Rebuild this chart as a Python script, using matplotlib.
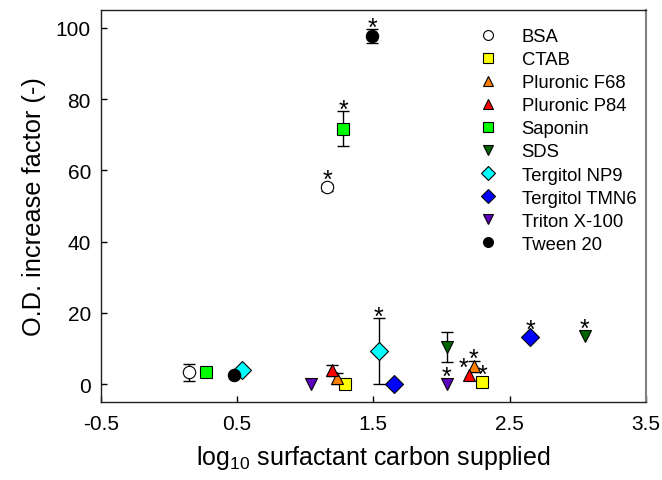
import matplotlib
matplotlib.use("Agg")
import matplotlib.pyplot as plt
from matplotlib.textpath import TextPath
from matplotlib.font_manager import FontProperties
import numpy as np

plt.rcParams['font.family'] = ['Liberation Sans', 'DejaVu Sans']
plt.rcParams['mathtext.fontset'] = 'custom'
plt.rcParams['mathtext.rm'] = 'Liberation Sans'
plt.rcParams['mathtext.it'] = 'Liberation Sans:italic'

# ---- data ----
names = ["BSA", "CTAB", "Pluronic F68", "Pluronic P84", "Saponin", "SDS",
         "Tergitol NP9", "Tergitol TMN6", "Triton X-100", "Tween 20"]
markers = ["o", "s", "^", "^", "s", "v", "D", "D", "v", "o"]
colors = ["#FFFFFF", "#FFFF00", "#FF8000", "#FF0000", "#00FF00", "#006400",
          "#00FFFF", "#0000FF", "#6000C0", "#000000"]

x_bsa = [0.15, 1.16];  y_bsa = [3.3, 55.2];  e_bsa = [2.5, 1.0]
x_ctab = [1.29, 2.30]; y_ctab = [0.0, 0.5];  e_ctab = [0.0, 0.0]
x_f68 = [1.23, 2.235]; y_f68 = [1.6, 5.0];   e_f68 = [1.5, 1.5]
x_p84 = [1.20, 2.20];  y_p84 = [3.9, 2.7];   e_p84 = [1.6, 0.0]
x_sap = [0.27, 1.28];  y_sap = [3.3, 71.7];  e_sap = [0.0, 5.0]
x_sds = [2.04, 3.05];  y_sds = [10.5, 13.6]; e_sds = [4.2, 0.0]
x_np9 = [0.54, 1.54];  y_np9 = [3.9, 9.3];   e_np9 = [0.0, 9.3]
x_tmn = [1.65, 2.65];  y_tmn = [0.0, 13.3];  e_tmn = [0.0, 0.0]
x_tri = [1.04, 2.04];  y_tri = [0.0, 0.0];   e_tri = [0.0, 0.0]
x_tw = [0.48, 1.49];   y_tw = [2.7, 97.8];   e_tw = [0.0, 2.0]

xs = [x_bsa, x_ctab, x_f68, x_p84, x_sap, x_sds, x_np9, x_tmn, x_tri, x_tw]
ys = [y_bsa, y_ctab, y_f68, y_p84, y_sap, y_sds, y_np9, y_tmn, y_tri, y_tw]
es = [e_bsa, e_ctab, e_f68, e_p84, e_sap, e_sds, e_np9, e_tmn, e_tri, e_tw]
# significance star on the second point of every surfactant
stars = [[False, True]] * 10
star_dx = [0, 0, 0, -4, 0, 0, 0, 0, 0, 0]  # horizontal nudge (points)

xticks = [-0.5, 0.5, 1.5, 2.5, 3.5]
yticks = [0, 20, 40, 60, 80, 100]

# ---- figure ----
fig = plt.figure(figsize=(6.62, 4.81), dpi=100)
ax = fig.add_axes([100.7 / 662, 1 - 403 / 481, (646 - 100.7) / 662, (403 - 11) / 481])
ax.set_xlim(-0.5, 3.5)
ax.set_ylim(-5, 105)

ms = 8.9
handles = []
for name, m, c, x, y, e in zip(names, markers, colors, xs, ys, es):
    x = np.array(x); y = np.array(y); e = np.array(e)
    has = e > 0
    if has.any():
        ax.errorbar(x[has], y[has], yerr=e[has], fmt='none', ecolor='black',
                    elinewidth=1.0, capsize=4.3, capthick=1.0, zorder=2)
    h, = ax.plot(x, y, linestyle='none', marker=m, markersize=ms,
                 markerfacecolor=c, markeredgecolor='black',
                 markeredgewidth=0.8, zorder=3, label=name)
    handles.append(h)

# stars: place the asterisk's ink centre at a set distance above the point
fig.canvas.draw()
tr = ax.transData
px_per_pt = fig.dpi / 72.0
star_fs = 18
ext = TextPath((0, 0), "*", size=star_fs,
               prop=FontProperties(family='Liberation Sans')).get_extents()
ink_mid_pt = (ext.y0 + ext.y1) / 2.0  # ink centre above baseline, points
for x, y, e, st, dx in zip(xs, ys, es, stars, star_dx):
    for xi, yi, ei, s in zip(x, y, e, st):
        if not s:
            continue
        cy = tr.transform((xi, yi))[1]
        ty = tr.transform((xi, yi + ei))[1]
        err_px = ty - cy
        above_px = max(13.0, err_px + 6.7)
        base_pt = above_px / px_per_pt - ink_mid_pt
        ax.annotate("*", xy=(xi, yi), xytext=(dx, base_pt),
                    textcoords='offset points', ha='center', va='baseline',
                    fontsize=star_fs, zorder=4)

ax.set_xticks(xticks)
ax.set_xticklabels([f"{t:.1f}" for t in xticks])
ax.set_yticks(yticks)
ax.tick_params(axis='x', direction='in', length=4, width=1, labelsize=15, pad=9)
ax.tick_params(axis='y', direction='in', length=4, width=1, labelsize=15, pad=7)

for s in ['left', 'bottom', 'top']:
    ax.spines[s].set_color('#202020')
    ax.spines[s].set_linewidth(1.0)
ax.spines['right'].set_color('#808080')
ax.spines['right'].set_linewidth(1.5)

ax.set_xlabel(r"log$_{\mathregular{10}}$ surfactant carbon supplied", fontsize=18, labelpad=7)
ax.set_ylabel("O.D. increase factor (-)", fontsize=18.3, labelpad=7)

leg = ax.legend(handles=handles, loc='upper left',
                bbox_to_anchor=((474.5 - 100.7) / (646 - 100.7), (403 - 29) / (403 - 11)),
                frameon=False, fontsize=13.3, markerscale=0.8, handlelength=1.5,
                handletextpad=1.05, labelspacing=0.33, borderpad=0, borderaxespad=0)

fig.savefig("out.png", dpi=100)
